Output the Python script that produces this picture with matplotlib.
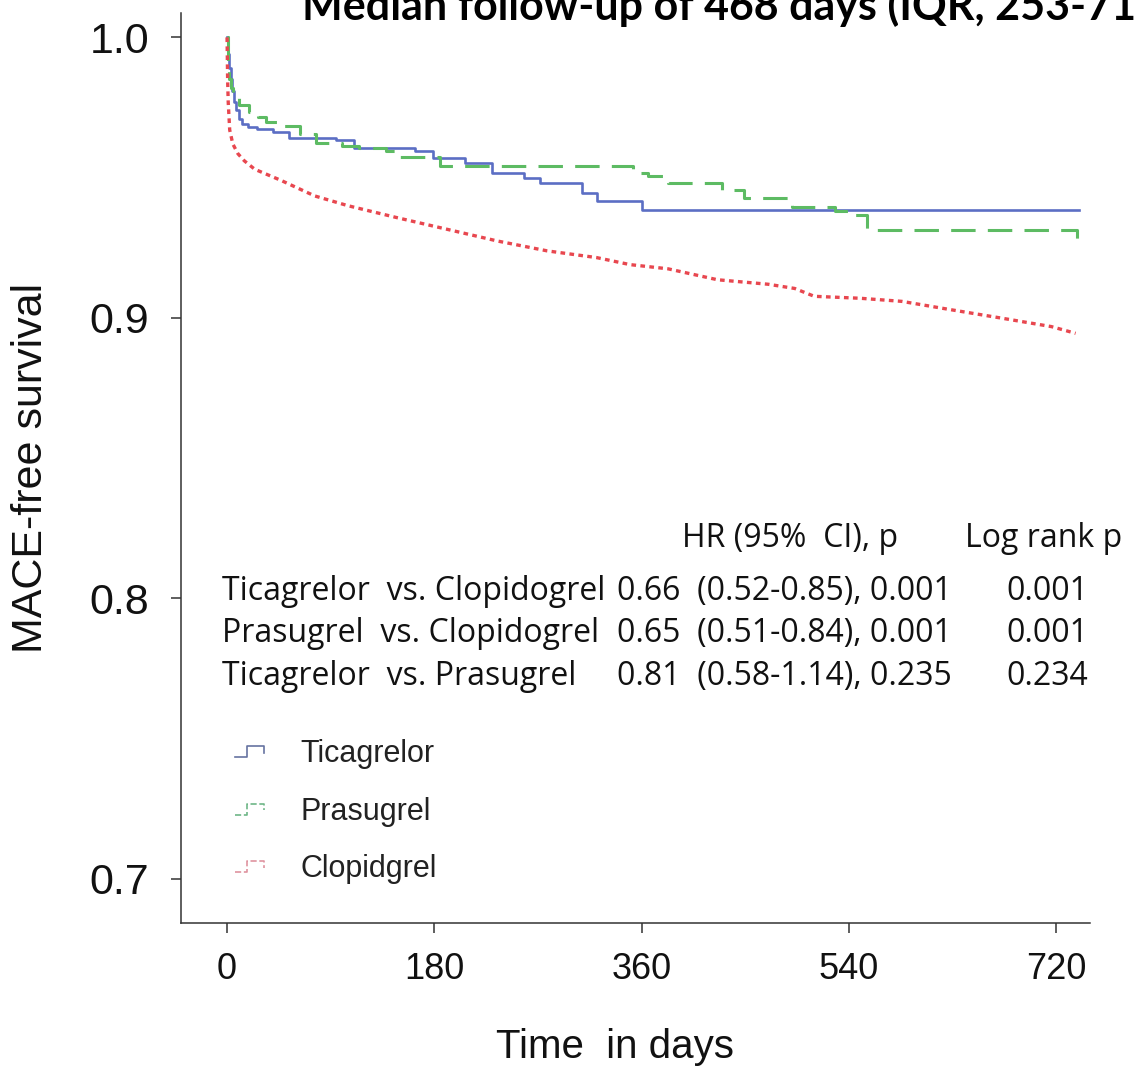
import numpy as np
import matplotlib
matplotlib.use("Agg")
import matplotlib.pyplot as plt
from matplotlib.lines import Line2D
from matplotlib.legend_handler import HandlerBase

# Kaplan-Meier estimates (days, MACE-free survival)
tica_days = [0, 1, 2, 3, 4, 6, 8, 10, 13, 18, 26, 40, 54, 95, 110, 163, 179,
             207, 230, 258, 272, 308, 321, 360, 740]
tica_surv = [1.0, 0.994, 0.989, 0.985, 0.981, 0.977, 0.974, 0.971, 0.969, 0.968,
             0.9675, 0.9663, 0.964, 0.9633, 0.9606, 0.9594, 0.957, 0.9552,
             0.9517, 0.9499, 0.948, 0.9445, 0.9416, 0.9386, 0.9386]

pras_days = [0, 1, 2, 3, 5, 10, 19, 27, 34, 48, 63, 77, 100, 115, 138, 150, 185,
             353, 366, 383, 430, 449, 491, 528, 544, 556, 738]
pras_surv = [1.0, 0.9885, 0.985, 0.982, 0.979, 0.976, 0.9733, 0.9715, 0.970,
             0.9684, 0.9654, 0.9625, 0.9612, 0.9606, 0.9594, 0.9575, 0.954,
             0.9517, 0.9505, 0.948, 0.9457, 0.9427, 0.9395, 0.938, 0.9368,
             0.9314, 0.926]

clop_days = [0, 0.5, 1, 2.3, 5, 9.5, 15, 24, 47, 76, 105, 148, 191, 235, 278,
             321, 350, 383, 426, 470, 493, 510, 550, 586, 629, 673, 716, 737]
clop_surv = [1.0, 0.985, 0.977, 0.967, 0.962, 0.9585, 0.956, 0.953, 0.949,
             0.9435, 0.940, 0.9357, 0.9316, 0.9274, 0.9239, 0.9215, 0.919,
             0.9175, 0.9136, 0.912, 0.9105, 0.9077, 0.907, 0.9059, 0.9029,
             0.8999, 0.8969, 0.8945]

group_names = ["Ticagrelor", "Prasugrel", "Clopidgrel"]

x_ticks = [0, 180, 360, 540, 720]
y_ticks = [0.7, 0.8, 0.9, 1.0]

table_header = ["HR (95%  CI), p", "Log rank p"]
comparisons = ["Ticagrelor  vs. Clopidogrel",
               "Prasugrel  vs. Clopidogrel",
               "Ticagrelor  vs. Prasugrel"]
hr_text = ["0.66  (0.52-0.85), 0.001",
           "0.65  (0.51-0.84), 0.001",
           "0.81  (0.58-1.14), 0.235"]
logrank_p = ["0.001", "0.001", "0.234"]

title = "Median follow-up of 468 days (IQR, 253-719 days)"

W, H = 1137, 1073
fig = plt.figure(figsize=(W / 100, H / 100), dpi=100)
ax = fig.add_axes([181 / W, 1 - 923 / H, 909 / W, (923 - 12.7) / H])

sans = ["Liberation Sans", "DejaVu Sans"]
table_font = ["Open Sans", "DejaVu Sans"]

blue, green, red = "#5b6ec4", "#5dbb63", "#e8474f"

ax.step(tica_days, tica_surv, where="post", color=blue, lw=1.9,
        label=group_names[0])
ax.step(pras_days, pras_surv, where="post", color=green, lw=2.2,
        linestyle=(0, (8, 4)), label=group_names[1])
ax.plot(clop_days, clop_surv, color=red, lw=2.4, linestyle=(0, (1.4, 1.3)),
        dash_capstyle="butt", label=group_names[2])

ax.set_xlim(-40, 749.5)
ax.set_ylim(0.6843, 1.0088)
ax.set_xticks(x_ticks)
ax.set_yticks(y_ticks)
ax.set_xticklabels([str(t) for t in x_ticks], family=sans, fontsize=26)
ax.set_yticklabels([f"{t:.1f}" for t in y_ticks], family=sans, fontsize=31)
ax.tick_params(axis="both", direction="out", length=7, width=1.1,
               color="#333333", labelcolor="#111111")
ax.tick_params(axis="x", pad=14)
ax.tick_params(axis="y", pad=16)

for side in ["top", "right"]:
    ax.spines[side].set_visible(False)
for side in ["left", "bottom"]:
    ax.spines[side].set_color("#333333")
    ax.spines[side].set_linewidth(1.1)

ax.set_xlabel("Time  in days", family=sans, fontsize=29, color="#111111")
ax.set_ylabel("MACE-free survival", family=sans, fontsize=31, color="#111111")
ax.xaxis.set_label_coords(0.4775, -0.115)
ax.yaxis.set_label_coords(-0.1427, 0.50)


# small step glyph used as the legend key
class StepHandler(HandlerBase):
    def create_artists(self, legend, orig_handle, xdescent, ydescent,
                       width, height, fontsize, trans):
        xs = np.array([0.0, 0.42, 0.42, 0.95, 0.95]) * width - xdescent
        ys = np.array([0.25, 0.25, 0.75, 0.75, 0.45]) * height - ydescent
        key = Line2D(xs, ys, color=orig_handle.get_color(), alpha=0.85,
                     linestyle=orig_handle.get_linestyle(), lw=1.2)
        key.set_transform(trans)
        return [key]


class KeyProxy:
    def __init__(self, line, color):
        self.line, self.color = line, color

    def get_color(self):
        return self.color

    def get_linestyle(self):
        return self.line.get_linestyle()


key_colors = ["#4b5a90", "#55aa72", "#d9808f"]
proxies = [KeyProxy(h, c) for h, c in zip(ax.get_lines(), key_colors)]
leg = ax.legend(proxies, group_names, handler_map={KeyProxy: StepHandler()},
                loc="center left", bbox_to_anchor=(0.059, 0.122),
                frameon=False, borderpad=0, borderaxespad=0,
                handlelength=1.0, handletextpad=1.15, labelspacing=0.9,
                prop={"family": sans, "size": 22})
for t in leg.get_texts():
    t.set_color("#222222")


# hazard ratio table, placed in figure pixels
def fx(px):
    return px / W


def fy(py):
    return 1 - py / H


fs_table = 23
fig.text(fx(682), fy(547), table_header[0], family=table_font, fontsize=fs_table,
         color="#111111", va="baseline", ha="left")
fig.text(fx(965), fy(547), table_header[1], family=table_font, fontsize=fs_table,
         color="#111111", va="baseline", ha="left")
for base, comp, hr, p in zip([600, 642, 685], comparisons, hr_text, logrank_p):
    fig.text(fx(222), fy(base), comp, family=table_font, fontsize=fs_table,
             color="#111111", va="baseline", ha="left")
    fig.text(fx(952), fy(base), hr, family=table_font, fontsize=fs_table,
             color="#111111", va="baseline", ha="right")
    fig.text(fx(1047), fy(base), p, family=table_font, fontsize=fs_table,
             color="#111111", va="baseline", ha="center")

fig.text(fx(302), fy(20), title, family=["Lato", "DejaVu Sans"],
         fontweight="bold", fontsize=31, color="black",
         va="baseline", ha="left")

fig.savefig("out.png", dpi=100)
